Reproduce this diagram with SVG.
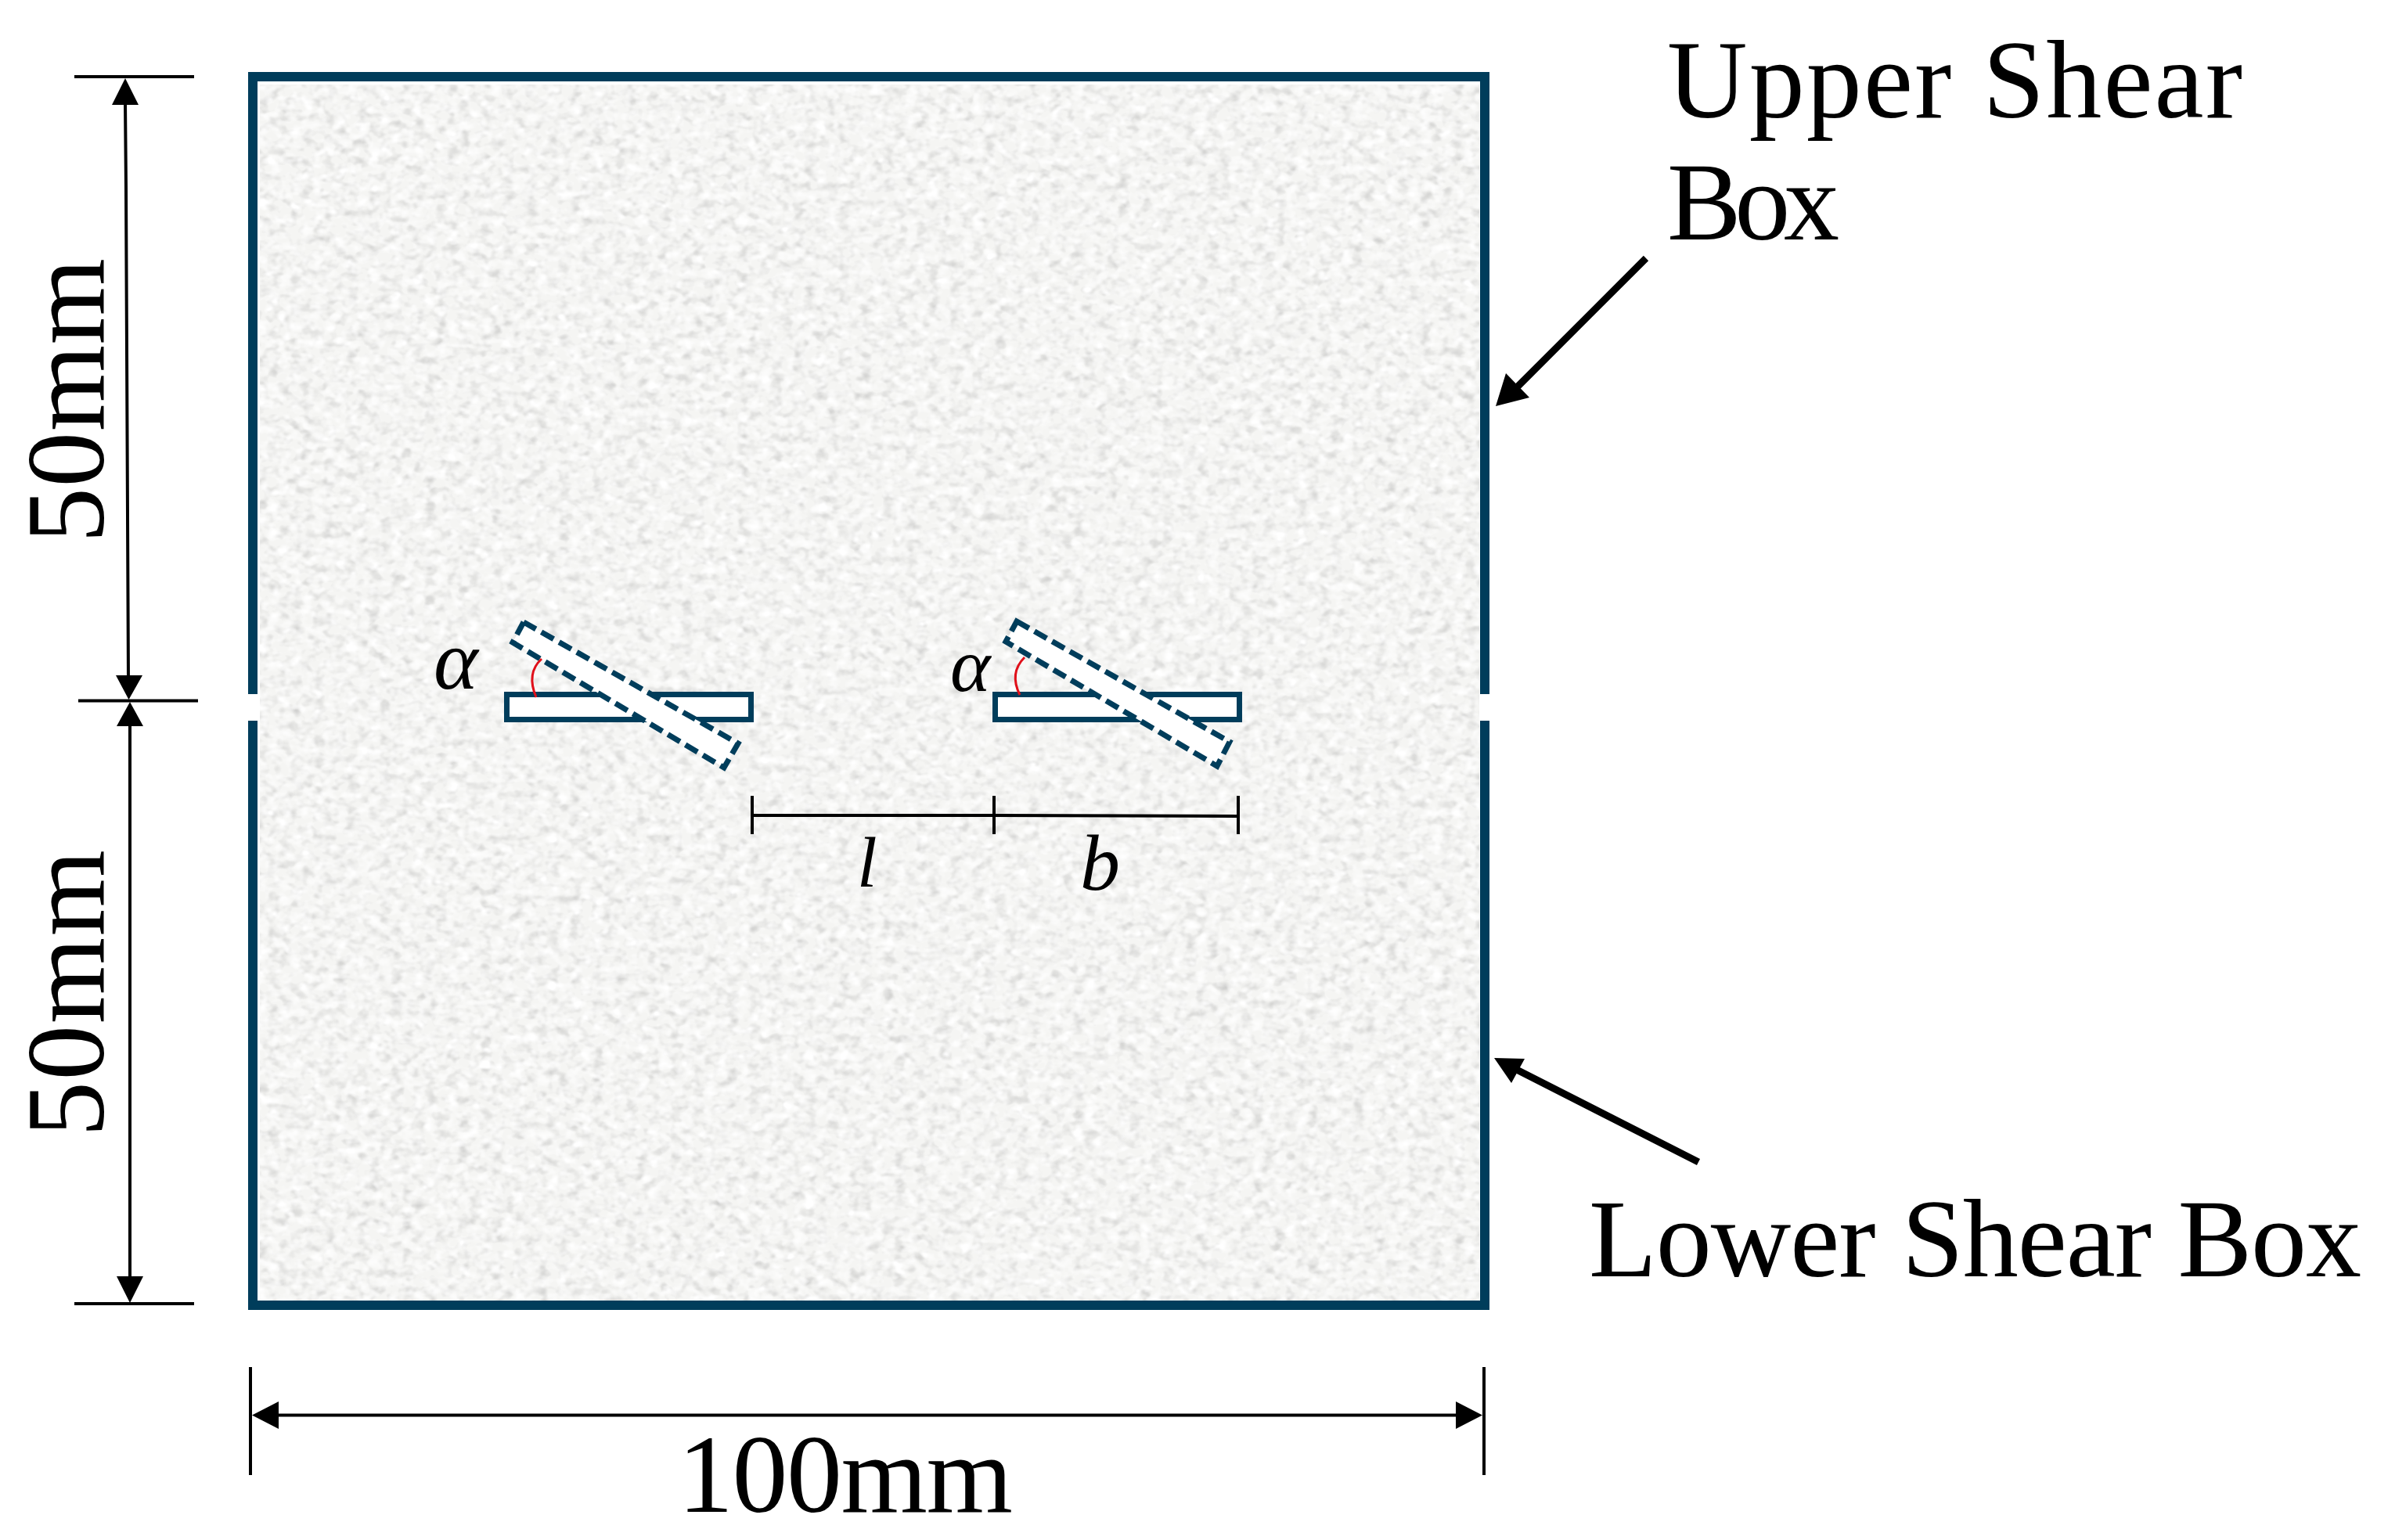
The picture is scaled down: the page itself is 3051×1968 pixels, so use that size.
<svg xmlns="http://www.w3.org/2000/svg" width="3051" height="1968" viewBox="0 0 3051 1968">
<style>
.t{font-family:"Liberation Serif","Times New Roman",serif;fill:#000}
.b{font-size:142px}
.i{font-style:italic}
.box{fill:none;stroke:#003d5b;stroke-width:12}
.ins{fill:#fff;stroke:#003d5b;stroke-width:7}
.dash{fill:#fff;stroke:#003d5b;stroke-width:7;stroke-dasharray:18 8}
.dim{fill:none;stroke:#000;stroke-width:4}
.arc{fill:none;stroke:#e0101a;stroke-width:3}
.ar{fill:#000}
</style>
<defs>
<filter id="grain" x="0" y="0" width="100%" height="100%" color-interpolation-filters="sRGB">
<feTurbulence type="fractalNoise" baseFrequency="0.07 0.09" numOctaves="2" seed="7"/>
<feColorMatrix type="matrix" values="0 0 0 0 0.55 0 0 0 0 0.55 0 0 0 0 0.55 0.5 0.5 0 0 -0.46"/>
<feComposite in2="SourceGraphic" operator="over"/>
</filter>
<filter id="hl" x="0" y="0" width="100%" height="100%" color-interpolation-filters="sRGB">
<feTurbulence type="fractalNoise" baseFrequency="0.07 0.09" numOctaves="2" seed="21"/>
<feColorMatrix type="matrix" values="0 0 0 0 1 0 0 0 0 1 0 0 0 0 1 1.8 1.8 0 0 -1.6"/>
</filter>
</defs>
<rect width="3051" height="1968" fill="#fff"/>
<g id="specimen">
<rect x="332" y="108" width="1558" height="1556" fill="#f5f5f3" filter="url(#grain)"/>
<rect x="332" y="108" width="1558" height="1556" filter="url(#hl)"/>
<rect x="332" y="1662" width="1560" height="6" fill="#80a0b0"/>
</g>
<g id="shear-box">
<path class="box" d="M323 887V98H1897V887"/>
<path class="box" d="M323 921V1668H1897V921"/>
</g>
<g id="inclusion-left">
<rect class="ins" x="647.5" y="887.5" width="312" height="32"/>
<path class="dash" d="M669 795L943 950L925 981L655 821Z"/>
<path class="arc" d="M692 842Q672 860 685 891"/>
</g>
<g id="inclusion-right">
<rect class="ins" x="1271.5" y="887.5" width="312" height="32"/>
<path class="dash" d="M1299 794L1571 948L1555 979L1285 820Z"/>
<path class="arc" d="M1309 840Q1289 860 1303 888"/>
</g>
<g id="connectors">
<path class="dim" d="M95 98H248M100 895.500H253M95 1666H248"/>
<path class="dim" d="M160 130L161 240L164 870M166 925V1660"/>
<path class="dim" d="M320 1747V1885M1896 1747V1885M350 1808.500H1870"/>
<path class="dim" d="M961 1017V1066M1270 1017V1066M1582 1017V1066"/>
<path class="dim" d="M961 1042H1270L1582 1043"/>
<path class="ar" d="M160 100L177 134H143ZM164.500 894L182 863H148ZM166 897L183 928H149ZM166 1665L183 1631H149ZM322 1808.500L356 1791V1826ZM1894 1808.500L1860 1791V1826Z"/>
<path fill="none" stroke="#000" stroke-width="9" d="M2103 330L1930 503M2170 1485L1930 1363"/>
<path class="ar" d="M1911 519L1924 477L1954 508ZM1909 1352L1948 1353L1931 1384Z"/>
</g>
<g id="labels">
<text class="t b" x="2130" y="150" textLength="735">Upper Shear</text>
<text class="t b" x="2130" y="306" textLength="220">Box</text>
<text class="t b" x="2030" y="1631" textLength="987">Lower Shear Box</text>
<text class="t b" x="866" y="1932" textLength="428">100mm</text>
<text class="t b" transform="translate(132 694) rotate(-90)" textLength="364">50mm</text>
<text class="t b" transform="translate(132 1453) rotate(-90)" textLength="367">50mm</text>
<text class="t i" font-size="108" x="554" y="880">α</text>
<text class="t i" font-size="98" x="1214" y="883">α</text>
<text class="t i" font-size="92" x="1095" y="1133">l</text>
<text class="t i" font-size="102" x="1380" y="1137">b</text>
</g>
</svg>
